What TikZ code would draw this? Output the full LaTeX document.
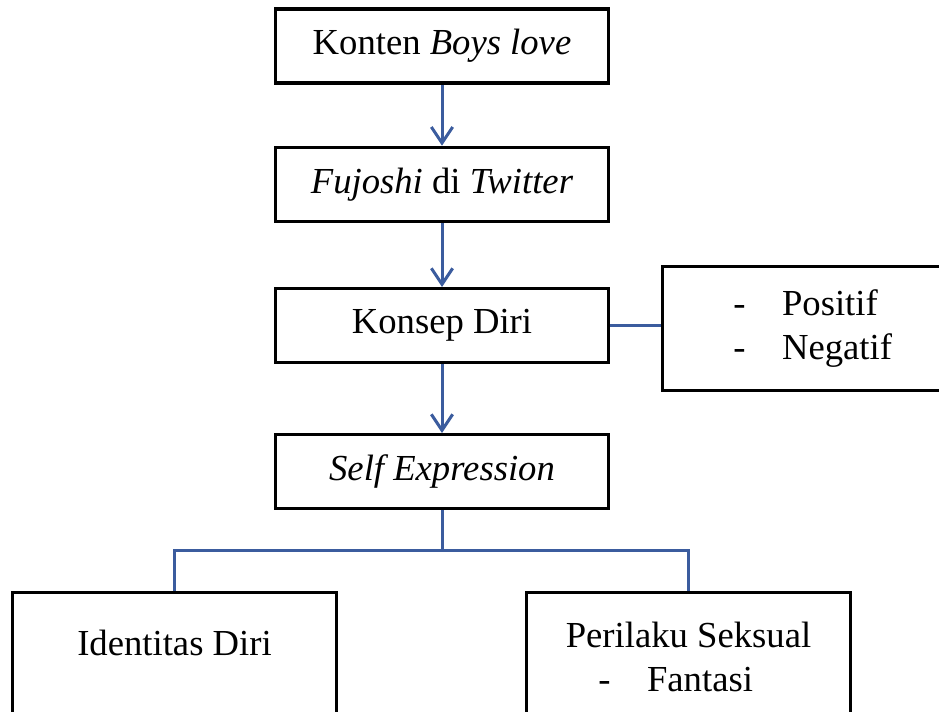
\documentclass[tikz,border=0pt]{standalone}
\usepackage{fontspec}
\setmainfont{Liberation Serif}
\usepackage{xcolor}
\usepackage{tikz}
\usetikzlibrary{positioning,arrows.meta}
\definecolor{linkblue}{HTML}{3B5C9E}
\tikzset{%
	block/.style    = {draw, rectangle, line width=2.5pt, inner sep=0pt,
		minimum height = 55.5pt, minimum width = 250pt},
	link/.style     = {draw=linkblue, line width=2.25pt},
	leaf/.style     = {block, anchor=north, minimum width = 243pt,
		text depth=40pt, align=center}
}

\begin{document}
\begin{tikzpicture}[x=0.75pt, y=-0.75pt, node distance=45.75pt,
          >={Straight Barb[length=12pt,width=16pt]},
          font=\fontsize{27.5}{33}\selectfont]
          \def\dash{\makebox[1.33em][l]{-}};
        \clip (0,0) rectangle (939,711);
        \draw
            node at (442,46)[block, name=konten]{Konten \textit{Boys love}}
            node [block, below=of konten] (fujoshi) {\textit{Fujoshi} di \textit{Twitter}}
            node [block, below=48pt of fujoshi] (konsep) {Konsep Diri}
            node [block, below=51.5pt of konsep] (selfexp) {\textit{Self Expression}}

            node [block, right=38pt of konsep, yshift=-2pt, minimum width=225pt,
                  minimum height=93pt, align=left] (sifat) {\dash Positif\\ \dash Negatif}

            node [leaf, inner ysep=27.7pt] (identitas) at (174.5,591) {Identitas Diri}
            node [leaf, inner ysep=21.7pt] (seksual) at (688.5,591)
                 {Perilaku Seksual\\ \dash Fantasi\hspace*{0.7em}};

            \draw[link,->] (konten) -- (fujoshi);
            \draw[link,->] (fujoshi) -- (konsep);
            \draw[link,->] (konsep) -- (selfexp);
            \draw[link] (konsep) -- (konsep -| sifat.west);

            \draw[link] (selfexp.south) -- ++(0,-30pt) coordinate (cabang);
            \draw[link] (identitas.north) |- (cabang) -| (seksual.north);
    \end{tikzpicture}
\end{document}
